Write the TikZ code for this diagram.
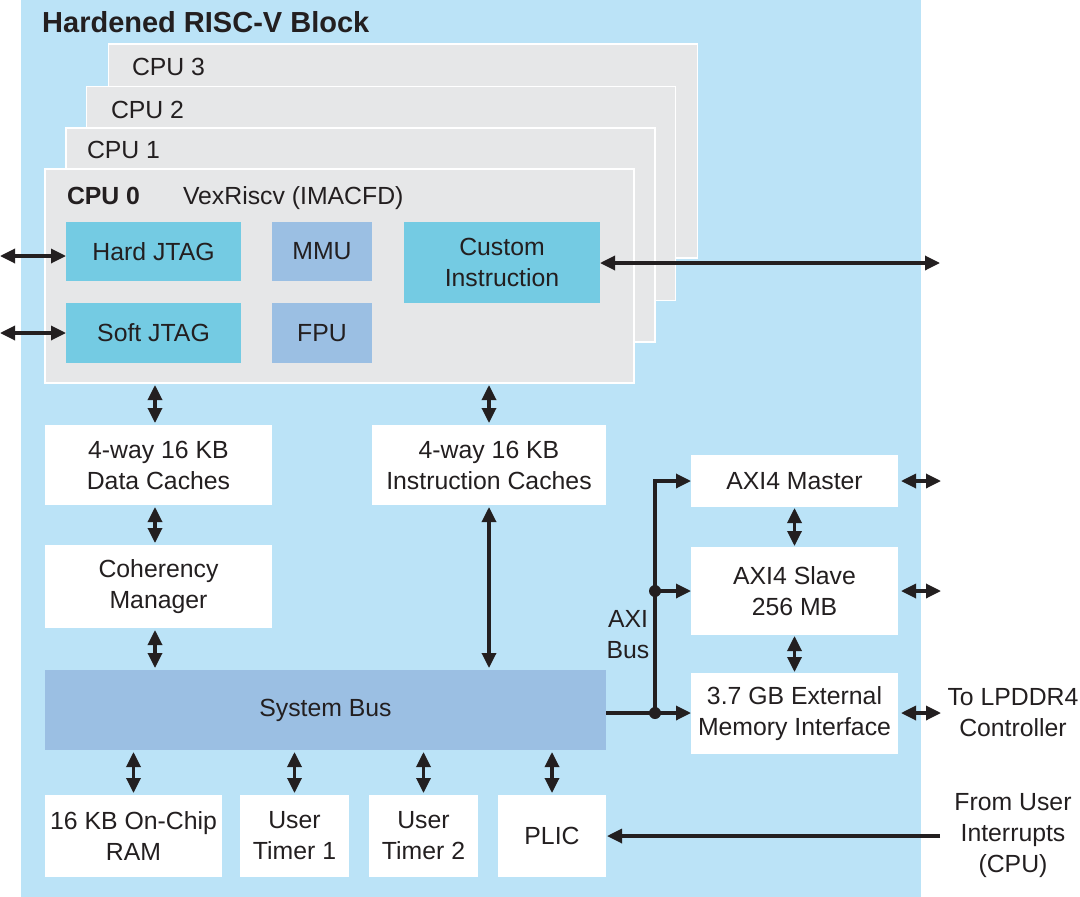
\documentclass[tikz,border=0pt]{standalone}
\usepackage{fontspec}
\setmainfont{Liberation Sans}
\usetikzlibrary{arrows.meta}
\definecolor{bgblue}{RGB}{187,227,247}
\definecolor{cpugray}{RGB}{230,231,232}
\definecolor{cyanbox}{RGB}{116,203,227}
\definecolor{steelbox}{RGB}{155,191,227}
\definecolor{ink}{RGB}{35,31,32}
\newcommand\fsz{\fontsize{24.8}{31}\selectfont}
\tikzset{
  box/.style={rectangle, inner sep=0pt, outer sep=0pt, align=center, font=\fsz, text=ink},
  wbox/.style={box, fill=white},
  cbox/.style={box, fill=cyanbox},
  sbox/.style={box, fill=steelbox},
  cpu/.style={rectangle, fill=cpugray, draw=white, line width=1.5pt, minimum width=589pt, minimum height=214pt, inner sep=0pt, outer sep=0pt},
  lbl/.style={inner sep=0pt, outer sep=0pt, font=\fsz, text=ink, align=center},
  dbl/.style={{Triangle[length=15pt,width=14pt]}-{Triangle[length=15pt,width=14pt]}, line width=3.3pt, draw=ink},
  sgl/.style={-{Triangle[length=15pt,width=14pt]}, line width=3.3pt, draw=ink},
  busline/.style={line width=3.3pt, draw=ink},
}
\begin{document}
\begin{tikzpicture}[x=1pt,y=-1pt]
\useasboundingbox (0,0) rectangle (1080,897);
\fill[bgblue] (21,0) rectangle (921,897);
\node[anchor=base west, inner sep=0pt, text=ink, font=\bfseries\fontsize{29}{32}\selectfont] (title) at (42,32) {Hardened RISC-V Block};

% CPU stack
\node[cpu] (cpu3) at (403,151) {};
\node[cpu] (cpu2) at (381,193.5) {};
\node[cpu] (cpu1) at (360.5,235) {};
\node[cpu] (cpu0) at (339.5,276) {};
\node[lbl, anchor=base west] (c3l) at (132,75) {CPU 3};
\node[lbl, anchor=base west] (c2l) at (111,118) {CPU 2};
\node[lbl, anchor=base west] (c1l) at (87,158) {CPU 1};
\node[lbl, anchor=base west, font=\fsz\bfseries] (c0l) at (67,204) {CPU 0};
\node[lbl, anchor=base west] (vex) at (183,204) {VexRiscv (IMACFD)};

\node[cbox, minimum width=175pt, minimum height=59pt] (hj) at (153.5,251.5) {Hard JTAG};
\node[cbox, minimum width=175pt, minimum height=60pt] (sj) at (153.5,333) {Soft JTAG};
\node[sbox, minimum width=100pt, minimum height=59pt] (mmu) at (322,251.5) {MMU};
\node[sbox, minimum width=100pt, minimum height=60pt] (fpu) at (322,333) {FPU};
\node[cbox, minimum width=196pt, minimum height=81pt] (ci) at (502,262.5) {Custom\\Instruction};

\coordinate (hjx) at (0,256);
\coordinate (sjx) at (0,333);
\coordinate (cix) at (940,263);
\draw[dbl] (hjx) -- (hjx -| hj.west);
\draw[dbl] (sjx) -- (sjx -| sj.west);
\draw[dbl] (ci.east |- cix) -- (cix);

% caches
\node[wbox, minimum width=227pt, minimum height=80pt] (dc) at (158.5,465) {4-way 16 KB\\Data Caches};
\node[wbox, minimum width=234pt, minimum height=80pt] (ic) at (489,465) {4-way 16 KB\\Instruction Caches};
\node[wbox, minimum width=227pt, minimum height=83pt] (coh) at (158.5,586.5) {Coherency\\Manager};
\node[sbox, minimum width=561pt, minimum height=80pt] (sb) at (325.5,710) {System Bus};

\coordinate (lx) at (155,0);
\draw[dbl, shorten <=2pt, shorten >=2pt] (cpu0.south -| lx) -- (dc.north -| lx);
\draw[dbl, shorten <=2pt, shorten >=2pt] (cpu0.south -| ic.north) -- (ic.north);
\draw[dbl, shorten <=2pt, shorten >=2pt] (dc.south -| lx) -- (coh.north -| lx);
\draw[dbl, shorten <=2pt, shorten >=2pt] (coh.south -| lx) -- (sb.north -| lx);
\draw[dbl, shorten <=2pt, shorten >=2pt] (ic.south) -- (sb.north -| ic.south);

% bottom peripherals
\node[wbox, minimum width=177pt, minimum height=82pt] (ram) at (133.5,836) {16 KB On-Chip\\RAM};
\node[wbox, minimum width=109pt, minimum height=82pt] (t1) at (294.5,836) {User\\Timer 1};
\node[wbox, minimum width=109pt, minimum height=82pt] (t2) at (423.5,836) {User\\Timer 2};
\node[wbox, minimum width=108pt, minimum height=82pt] (plic) at (552,836) {PLIC};
\foreach \n in {ram,t1,t2,plic}{
  \draw[dbl, shorten <=2pt, shorten >=2pt] (sb.south -| \n.north) -- (\n.north);
}

% AXI side
\node[wbox, minimum width=207pt, minimum height=52pt] (am) at (794.5,481) {AXI4 Master};
\node[wbox, minimum width=207pt, minimum height=88pt] (as) at (794.5,591) {AXI4 Slave\\256 MB};
\node[wbox, minimum width=207pt, minimum height=81pt] (ext) at (794.5,713.5) {3.7 GB External\\Memory Interface};

\coordinate (j0) at (655,481);
\coordinate (j1) at (655,591);
\coordinate (j2) at (655,713);
\draw[busline] (sb.east |- j2) -- (j2);
\draw[sgl] (j2) -- (ext.west |- j2);
\draw[sgl, line join=miter] (j2) -- (j0) -- (am.west);
\draw[sgl] (j1) -- (as.west);
\fill[ink] (j1) circle (6pt);
\fill[ink] (j2) circle (6pt);
\node[lbl] (axib) at (628,635) {AXI\\Bus};

\draw[dbl, shorten <=1pt, shorten >=1pt] (am.south) -- (as.north);
\draw[dbl, shorten <=1pt, shorten >=1pt] (as.south) -- (ext.north);

\coordinate (r0) at (941,481);
\coordinate (r1) at (941,591);
\coordinate (r2) at (941,713);
\draw[dbl, shorten <=3pt] (am.east |- r0) -- (r0);
\draw[dbl, shorten <=3pt] (as.east |- r1) -- (r1);
\draw[dbl, shorten <=3pt] (ext.east |- r2) -- (r2);
\node[lbl] (lp) at (1013,713) {To LPDDR4\\Controller};

\coordinate (uin) at (940,836);
\draw[sgl, shorten >=1pt] (uin) -- (plic.east |- uin);
\node[lbl] (ui) at (1013,836) {From User\\Interrupts\\(CPU)};
\end{tikzpicture}
\end{document}
